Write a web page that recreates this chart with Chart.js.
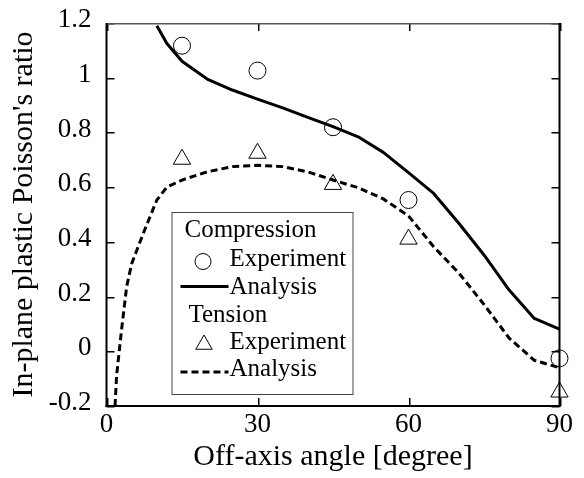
<!DOCTYPE html>
<html>
<head>
<meta charset="utf-8">
<script src="https://cdn.jsdelivr.net/npm/chart.js@4.4.1/dist/chart.umd.min.js"></script>
<style>
  html, body { margin: 0; padding: 0; background: #fff; }
  canvas { display: block; }
</style>
</head>
<body>
<canvas id="myChart" width="584" height="478"></canvas>
<script>
// Tick positions for both axes
const xTickValues = [0, 30, 60, 90];
const yTickValues = [-0.2, 0, 0.2, 0.4, 0.6, 0.8, 1, 1.2];

// Measured points (off-axis angle in degrees)
const expAngles = [15, 30, 45, 60, 90];
const compressionExp = [1.117, 1.026, 0.819, 0.553, -0.026];
const tensionExp = [0.702, 0.724, 0.61, 0.41, -0.149];

// Analysis curves
const compressionAngles = [10, 12, 15, 20, 25, 30, 35, 40, 45, 50, 55, 60, 65, 70, 75, 80, 85, 90];
const compressionAnalysis = [1.19, 1.125, 1.06, 0.995, 0.955, 0.922, 0.89, 0.855, 0.821, 0.784, 0.727, 0.653, 0.577, 0.468, 0.352, 0.224, 0.12, 0.081];

const tensionAngles = [1.7, 2, 3, 4, 5, 7.5, 10, 12, 15, 20, 25, 30, 35, 40, 45, 50, 55, 60, 65, 70, 75, 80, 85, 90];
const tensionAnalysis = [-0.2, -0.09, 0.08, 0.236, 0.32, 0.44, 0.553, 0.6, 0.626, 0.656, 0.675, 0.68, 0.675, 0.656, 0.626, 0.598, 0.557, 0.495, 0.382, 0.286, 0.171, 0.048, -0.033, -0.06];

const serif = "'Liberation Serif', 'Times New Roman', serif";

function toPoints(xs, ys) {
  return xs.map((x, i) => ({ x: x, y: ys[i] }));
}

// Frame with inward ticks on all four sides, plus the boxed legend
const framePlugin = {
  id: "frame",
  afterDraw(chart) {
    const c = chart.ctx;
    const area = chart.chartArea;
    const left = area.left, right = area.right, top = area.top, bottom = area.bottom;
    const xs = chart.scales.x;
    const ys = chart.scales.y;
    const tick = 8;

    c.save();
    c.setLineDash([]);
    c.globalAlpha = 1;

    // inward tick marks
    c.fillStyle = "#000";
    xTickValues.forEach((v) => {
      const px = Math.round(xs.getPixelForValue(v));
      c.fillRect(px, bottom - tick, 1.5, tick);
      c.fillRect(px, top, 1.5, tick);
    });
    yTickValues.forEach((v) => {
      const py = Math.round(ys.getPixelForValue(v));
      c.fillRect(left, py, tick, 1.5);
      c.fillRect(right - tick, py, tick, 1.5);
    });

    // top edge is thin and grey, the others heavier
    c.fillStyle = "#555";
    c.fillRect(left, top, right - left, 1.5);
    c.fillStyle = "#000";
    c.fillRect(left - 1, top, 2, bottom - top + 1);
    c.fillRect(right - 1, top, 2, bottom - top + 1);
    c.fillRect(left - 1, bottom - 1, right - left + 2, 2);

    // legend box
    const bx = left + 65;
    const by = top + 189;
    const bw = 181;
    const bh = 182;
    c.fillStyle = "#fff";
    c.fillRect(bx, by, bw, bh);
    c.strokeStyle = "#444";
    c.lineWidth = 1;
    c.strokeRect(bx + 0.5, by + 0.5, bw, bh);

    c.fillStyle = "#000";
    c.font = "25px " + serif;
    c.textBaseline = "alphabetic";
    c.textAlign = "left";
    c.fillText("Compression", bx + 13, by + 25);
    c.fillText("Experiment", bx + 58, by + 54);
    c.fillText("Analysis", bx + 58, by + 81.5);
    c.fillText("Tension", bx + 17, by + 109.5);
    c.fillText("Experiment", bx + 58, by + 137);
    c.fillText("Analysis", bx + 58, by + 164);

    // hollow legend markers
    c.fillStyle = "rgba(0,0,0,0)";
    c.strokeStyle = "#000";
    c.lineWidth = 1;
    Chart.helpers.drawPoint(c, { pointStyle: "circle", radius: 8, rotation: 0, borderWidth: 1 }, bx + 31.5, by + 49.5);
    Chart.helpers.drawPoint(c, { pointStyle: "triangle", radius: 9.5, rotation: 0, borderWidth: 1 }, bx + 32.5, by + 132.5);

    c.lineWidth = 3;
    c.beginPath();
    c.moveTo(bx + 9, by + 74.5);
    c.lineTo(bx + 57, by + 74.5);
    c.stroke();

    c.setLineDash([7, 4]);
    c.beginPath();
    c.moveTo(bx + 9, by + 160);
    c.lineTo(bx + 57, by + 160);
    c.stroke();
    c.restore();
  },
};

const ctx = document.getElementById("myChart").getContext("2d");

new Chart(ctx, {
  type: "scatter",
  data: {
    datasets: [
      {
        label: "Compression Experiment",
        data: toPoints(expAngles, compressionExp),
        pointStyle: "circle",
        pointRadius: 8.5,
        pointBorderWidth: 1,
        pointBorderColor: "#000",
        pointBackgroundColor: "rgba(0,0,0,0)",
        clip: false,
      },
      {
        label: "Tension Experiment",
        data: toPoints(expAngles, tensionExp),
        pointStyle: "triangle",
        pointRadius: 10,
        pointBorderWidth: 1,
        pointBorderColor: "#000",
        pointBackgroundColor: "rgba(0,0,0,0)",
        clip: false,
      },
      {
        label: "Compression Analysis",
        data: toPoints(compressionAngles, compressionAnalysis),
        showLine: true,
        borderColor: "#000",
        borderWidth: 3,
        borderJoinStyle: "round",
        tension: 0,
        pointRadius: 0,
      },
      {
        label: "Tension Analysis",
        data: toPoints(tensionAngles, tensionAnalysis),
        showLine: true,
        borderColor: "#000",
        borderWidth: 3,
        borderDash: [7, 4],
        tension: 0,
        pointRadius: 0,
      },
    ],
  },
  options: {
    responsive: false,
    animation: false,
    devicePixelRatio: 1,
    layout: {
      padding: { top: 23, right: 24.5, left: 0, bottom: 0 },
    },
    plugins: {
      legend: { display: false },
      tooltip: { enabled: false },
    },
    scales: {
      x: {
        type: "linear",
        min: 0,
        max: 90,
        afterBuildTicks: (scale) => {
          scale.ticks = xTickValues.map((v) => ({ value: v }));
        },
        afterFit: (scale) => {
          scale.height = 72;
          scale.paddingLeft = 0;
          scale.paddingRight = 0;
        },
        grid: { display: false, drawTicks: false },
        border: { display: false },
        ticks: {
          color: "#000",
          padding: 3,
          maxRotation: 0,
          font: { family: serif, size: 27 },
        },
        title: {
          display: true,
          text: "Off-axis angle [degree]",
          color: "#000",
          font: { family: serif, size: 30 },
          padding: { top: 0, bottom: 3 },
        },
      },
      y: {
        type: "linear",
        min: -0.2,
        max: 1.2,
        afterBuildTicks: (scale) => {
          scale.ticks = yTickValues.map((v) => ({ value: v }));
        },
        afterFit: (scale) => {
          // labels may hang past the plot edges, keep the plot box fixed
          scale.width = 106.5;
          scale.paddingTop = 0;
          scale.paddingBottom = 0;
        },
        grid: { display: false, drawTicks: false },
        border: { display: false },
        ticks: {
          color: "#000",
          padding: 15,
          labelOffset: -3,
          font: { family: serif, size: 27 },
          callback: (v) => String(Number(v.toFixed(1))),
        },
        title: {
          display: true,
          text: "In-plane plastic Poisson's ratio",
          color: "#000",
          font: { family: serif, size: 30 },
          padding: { top: 6, bottom: 0 },
        },
      },
    },
  },
  plugins: [framePlugin],
});
</script>
</body>
</html>
